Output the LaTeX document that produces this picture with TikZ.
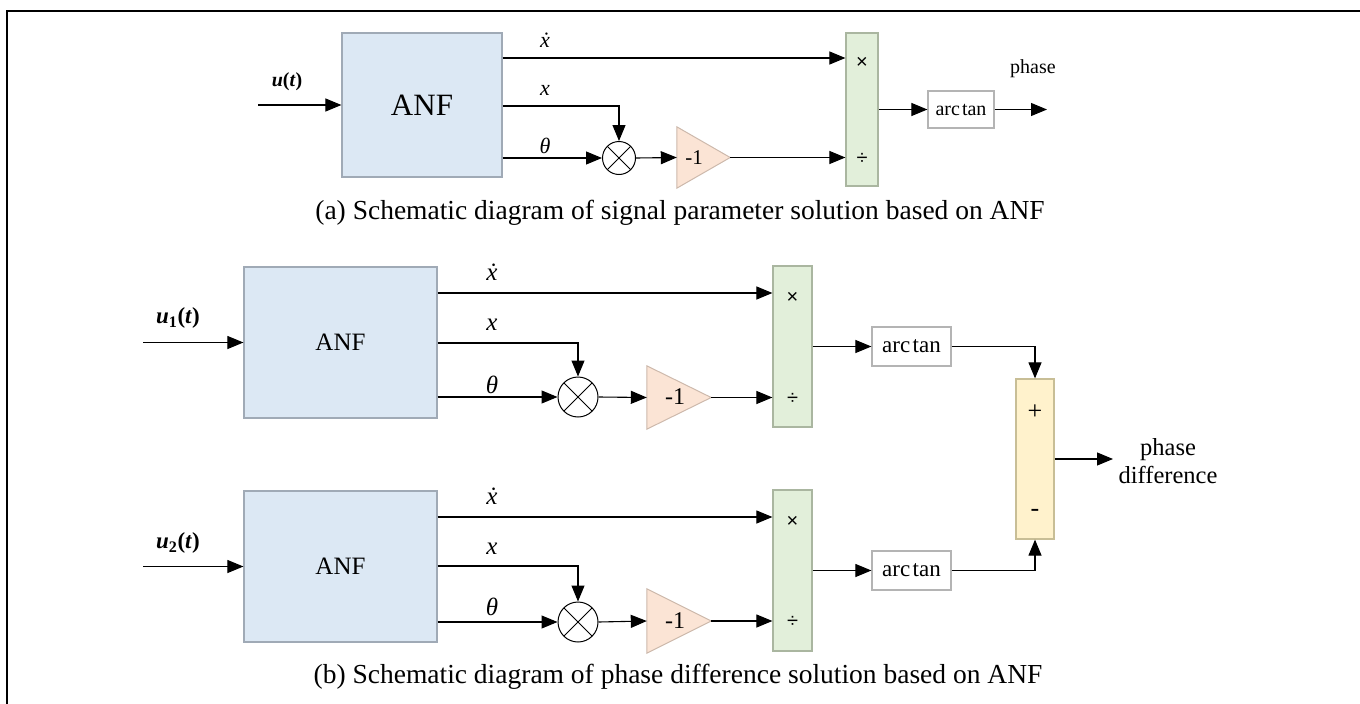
\documentclass[tikz,border=0pt]{standalone}
\usepackage{fontspec}
\setmainfont{Liberation Serif}
\newfontfamily\symfont{Liberation Sans}
\usetikzlibrary{arrows.meta,calc}
\definecolor{anfblue}{RGB}{220,232,244}
\definecolor{anfline}{RGB}{160,170,182}
\definecolor{mulgreen}{RGB}{226,239,218}
\definecolor{mulline}{RGB}{170,182,160}
\definecolor{gainpeach}{RGB}{251,228,213}
\definecolor{gainline}{RGB}{205,185,172}
\definecolor{sumyellow}{RGB}{255,242,204}
\definecolor{sumline}{RGB}{200,190,150}
\definecolor{atline}{RGB}{180,180,180}
\tikzset{
  fs/.style={font=\fontsize{#1}{#1}\selectfont},
  anfbox/.style={draw=anfline, fill=anfblue, line width=1.2pt, minimum width=193, minimum height=151, inner sep=0, fs=25},
  mulbox/.style={draw=mulline, fill=mulgreen, line width=1.2pt, minimum width=39, minimum height=161, inner sep=0},
  sumbox/.style={draw=sumline, fill=sumyellow, line width=1.2pt, minimum width=38, minimum height=160, inner sep=0},
  atbox/.style={draw=atline, fill=white, line width=1.2pt, minimum width=79, minimum height=39, inner sep=0, fs=23},
  mixer/.style={draw, circle, line width=1pt, inner sep=0, minimum size=#1,
    path picture={\draw[line width=0.9pt] (path picture bounding box.north west) -- (path picture bounding box.south east)
      (path picture bounding box.north east) -- (path picture bounding box.south west);}},
  tribox/.style={inner sep=0, minimum width=#1},
  trifill/.style={draw=gainline, fill=gainpeach, line width=1pt},
  arr/.style={-{Triangle[length=16pt,width=13pt]}, line width=1.1pt},
  lbl/.style={inner sep=0, fs=25},
  opsym/.style={inner sep=0, font=\symfont\fontsize{20}{20}\selectfont},
}
\begin{document}
\begin{tikzpicture}[x=1pt,y=-1pt]
\useasboundingbox (0,0) rectangle (1360,704);
\draw[line width=2.4pt] (7,704) -- (7,11) -- (1360,11);

% ================= (a) =================
\node[anfbox, minimum width=160, minimum height=144, fs=31] (anf0) at (422,105) {ANF};
\node[mulbox, minimum width=32, minimum height=153] (mul0) at (862,109.5) {};
\node[atbox, minimum width=66, minimum height=37, fs=20] (at0) at (961,109.5) {arc\kern2pt tan};
\node[mixer=33] (c0) at (619,158) {};
\node[tribox=53, minimum height=61] (g0) at (703.5,157.5) {};
\filldraw[trifill] (g0.north west) -- (g0.east) -- (g0.south west) -- cycle;
\node[lbl, fs=21] (g0t) at (694,158) {-1};
\node[opsym] (m0a) at (862,63) {×};
\node[opsym] (m0b) at (862,159) {÷};
\coordinate (in0) at (258,105);
\coordinate (out0) at (1047,109.5);

\node[lbl, font=\bfseries\fontsize{20}{20}\selectfont] (u0) at (287,82) {\textit{u}(\textit{t})};
\node[lbl, fs=22] (lx0d) at (545,40) {\textit{\.{x}}};
\node[lbl, fs=22] (lx0) at (545,90) {\textit{x}};
\node[lbl, fs=22] (lt0) at (545,146) {\textit{θ}};
\node[lbl, fs=20] (ph0) at (1033,69) {phase};

\draw[arr] (in0) -- (anf0.west);
\draw[arr] (anf0.east |- 0,58) -- (mul0.west |- 0,58);
\draw[arr] (anf0.east |- 0,106) -| (c0.north);
\draw[arr] (anf0.east |- c0) -- (c0.west);
\draw[arr] (c0.east) -- (g0.west);
\draw[arr] (g0.east) -- (mul0.west |- g0.east);
\draw[arr] (mul0.east |- at0) -- (at0.west);
\draw[arr] (at0.east) -- (out0);

\node[lbl, fs=27.5] (capa) at (680,213) {(a) Schematic diagram of signal parameter solution based on ANF};

% ================= (b) =================
\node[anfbox] (anf1) at (340.5,342.5) {ANF};
\node[anfbox] (anf2) at (340.5,566.5) {ANF};
\node[mulbox] (mul1) at (792.5,346.5) {};
\node[mulbox] (mul2) at (792.5,570.5) {};
\node[atbox] (at1) at (911.5,346.5) {arc\kern2.5pt tan};
\node[atbox] (at2) at (911.5,570.5) {arc\kern2.5pt tan};
\node[sumbox] (sum) at (1035,459) {};
\node[mixer=40] (c1) at (578,397) {};
\node[mixer=40] (c2) at (578,622) {};
\node[tribox=64, minimum height=63] (g1) at (679,397.5) {};
\node[tribox=64, minimum height=64] (g2) at (679,621) {};
\filldraw[trifill] (g1.north west) -- (g1.east) -- (g1.south west) -- cycle;
\filldraw[trifill] (g2.north west) -- (g2.east) -- (g2.south west) -- cycle;
\node[lbl, fs=24] (g1t) at (675,397) {-1};
\node[lbl, fs=24] (g2t) at (675,621) {-1};
\node[opsym] (m1a) at (792.5,298) {×};
\node[opsym] (m1b) at (792.5,399) {÷};
\node[opsym] (m2a) at (792.5,522) {×};
\node[opsym] (m2b) at (792.5,622) {÷};
\node[lbl, fs=26] (sp) at (1035,412) {+};
\node[lbl, fs=26] (sm) at (1035,513) {-};
\coordinate (in1) at (143,342.5);
\coordinate (in2) at (143,566.5);
\coordinate (out1) at (1113,459);

\node[lbl, font=\bfseries\fontsize{23}{23}\selectfont] (u1) at (178,318) {\textit{u}\textsubscript{1}(\textit{t})};
\node[lbl, font=\bfseries\fontsize{23}{23}\selectfont] (u2) at (178,543) {\textit{u}\textsubscript{2}(\textit{t})};
\node[lbl] (lx1d) at (492,272) {\textit{\.{x}}};
\node[lbl] (lx1) at (492,325) {\textit{x}};
\node[lbl] (lt1) at (492,385) {\textit{θ}};
\node[lbl] (lx2d) at (492,496) {\textit{\.{x}}};
\node[lbl] (lx2) at (492,549) {\textit{x}};
\node[lbl] (lt2) at (492,607) {\textit{θ}};
\node[lbl, align=center, font=\fontsize{24.5}{28}\selectfont] (ph1) at (1168,461) {phase\\difference};

\draw[arr] (in1) -- (anf1.west);
\draw[arr] (anf1.east |- 0,293) -- (mul1.west |- 0,293);
\draw[arr] (anf1.east |- 0,343) -| (c1.north);
\draw[arr] (anf1.east |- c1) -- (c1.west);
\draw[arr] (c1.east) -- (g1.west);
\draw[arr] (g1.east) -- (mul1.west |- g1.east);
\draw[arr] (mul1.east |- at1) -- (at1.west);
\draw[arr] (at1.east) -| (sum.north);

\draw[arr] (in2) -- (anf2.west);
\draw[arr] (anf2.east |- 0,517) -- (mul2.west |- 0,517);
\draw[arr] (anf2.east |- 0,566) -| (c2.north);
\draw[arr] (anf2.east |- c2) -- (c2.west);
\draw[arr] (c2.east) -- (g2.west);
\draw[arr] (g2.east) -- (mul2.west |- g2.east);
\draw[arr] (mul2.east |- at2) -- (at2.west);
\draw[arr] (at2.east) -| (sum.south);

\draw[arr] (sum.east) -- (out1);

\node[lbl, fs=27.5] (capb) at (678,677) {(b) Schematic diagram of phase difference solution based on ANF};
\end{tikzpicture}
\end{document}
